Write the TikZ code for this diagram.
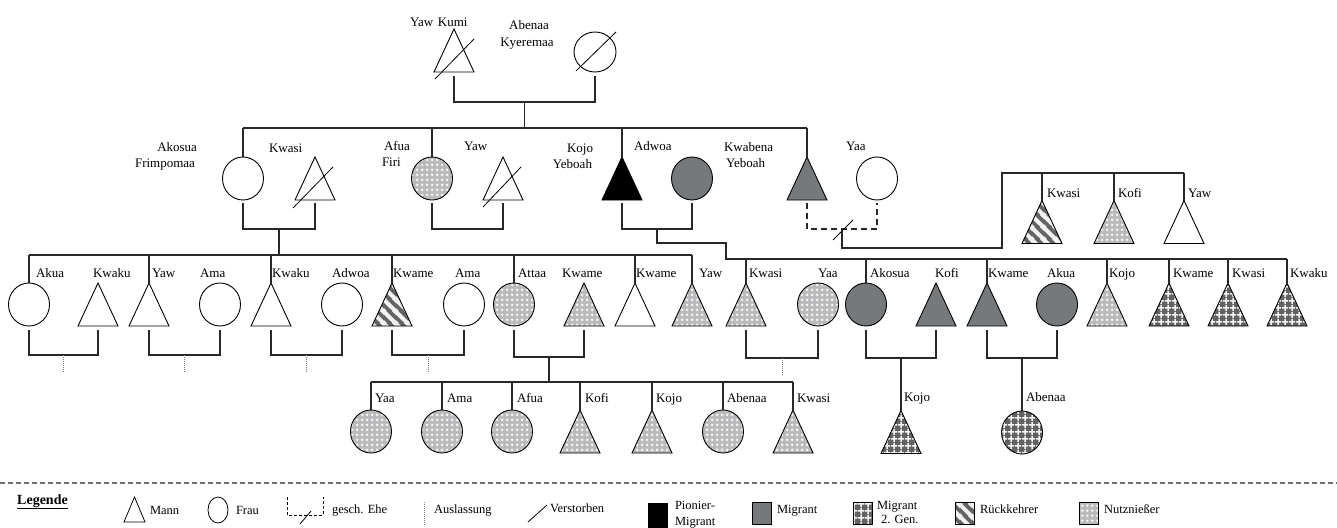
\documentclass[tikz,border=0pt]{standalone}
\usepackage{fontspec}
\setmainfont{Liberation Serif}
\usetikzlibrary{shapes.geometric,patterns,calc}
\makeatletter
\pgfdeclareshape{mantri}{
  \inheritsavedanchors[from=rectangle]
  \inheritanchorborder[from=rectangle]
  \inheritanchor[from=rectangle]{center}
  \inheritanchor[from=rectangle]{north}
  \inheritanchor[from=rectangle]{south}
  \inheritanchor[from=rectangle]{east}
  \inheritanchor[from=rectangle]{west}
  \inheritanchor[from=rectangle]{north east}
  \inheritanchor[from=rectangle]{north west}
  \inheritanchor[from=rectangle]{south east}
  \inheritanchor[from=rectangle]{south west}
  \backgroundpath{
    \southwest \edef\mtxa{\the\pgf@x}\edef\mtya{\the\pgf@y}
    \northeast \edef\mtxb{\the\pgf@x}\edef\mtyb{\the\pgf@y}
    \pgfpathmoveto{\pgfqpoint{\mtxa}{\mtya}}
    \pgfpathlineto{\pgfqpoint{\mtxb}{\mtya}}
    \pgfpathlineto{\pgfpointlineattime{0.5}{\pgfqpoint{\mtxa}{\mtyb}}{\pgfqpoint{\mtxb}{\mtyb}}}
    \pgfpathclose
  }
}
\makeatother
\pgfdeclarepatternformonly{nutzpat}{\pgfqpoint{0pt}{0pt}}{\pgfqpoint{5pt}{5pt}}{\pgfqpoint{5pt}{5pt}}{
  \pgfsetlinewidth{0.9pt}
  \pgfpathmoveto{\pgfqpoint{0.9pt}{2.5pt}}\pgfpathlineto{\pgfqpoint{4.1pt}{2.5pt}}
  \pgfpathmoveto{\pgfqpoint{2.5pt}{0.9pt}}\pgfpathlineto{\pgfqpoint{2.5pt}{4.1pt}}
  \pgfusepath{stroke}
}
\pgfdeclarepatternformonly{migiipat}{\pgfqpoint{0pt}{0pt}}{\pgfqpoint{6.5pt}{6.5pt}}{\pgfqpoint{6.5pt}{6.5pt}}{
  \pgfsetlinewidth{1.7pt}
  \pgfpathmoveto{\pgfqpoint{0pt}{3.25pt}}\pgfpathlineto{\pgfqpoint{6.5pt}{3.25pt}}
  \pgfpathmoveto{\pgfqpoint{3.25pt}{0pt}}\pgfpathlineto{\pgfqpoint{3.25pt}{6.5pt}}
  \pgfusepath{stroke}
}
\pgfdeclarepatternformonly{rueckpat}{\pgfqpoint{0pt}{0pt}}{\pgfqpoint{12pt}{12pt}}{\pgfqpoint{12pt}{12pt}}{
  \pgfsetlinewidth{4.2pt}
  \pgfpathmoveto{\pgfqpoint{-1pt}{13pt}}\pgfpathlineto{\pgfqpoint{13pt}{-1pt}}
  \pgfpathmoveto{\pgfqpoint{-4pt}{4pt}}\pgfpathlineto{\pgfqpoint{4pt}{-4pt}}
  \pgfpathmoveto{\pgfqpoint{8pt}{16pt}}\pgfpathlineto{\pgfqpoint{16pt}{8pt}}
  \pgfusepath{stroke}
}
\definecolor{linec}{RGB}{40,40,40}
\definecolor{miggray}{RGB}{118,121,123}
\definecolor{nutzbase}{RGB}{186,186,188}
\definecolor{migiibase}{RGB}{98,98,98}
\definecolor{rueckbase}{RGB}{100,100,100}
\definecolor{sepgray}{RGB}{110,110,110}
\newcommand\fsmain{\fontsize{13}{15}\selectfont}
\newcommand\fsleg{\fontsize{12.5}{14}\selectfont}
\tikzset{
  conn/.style={draw=linec, line width=1.1pt},
  ausl/.style={draw=gray, line width=0.9pt, dash pattern=on 1pt off 1pt},
  dec/.style={draw=black, line width=0.8pt},
  man/.style={shape=mantri, draw=black, line width=0.9pt, minimum width=40pt, minimum height=43pt, inner sep=0pt, outer sep=0pt},
  woman/.style={shape=ellipse, draw=black, line width=0.9pt, minimum width=41pt, minimum height=43pt, inner sep=0pt, outer sep=0pt},
  nutz/.style={preaction={fill=nutzbase}, pattern=nutzpat, pattern color=white},
  mig/.style={fill=miggray},
  pion/.style={fill=black},
  migii/.style={preaction={fill=migiibase}, pattern=migiipat, pattern color=white!92!gray},
  rueck/.style={preaction={fill=rueckbase}, pattern=rueckpat, pattern color=white!90!gray},
  lbl/.style={font=\fsmain, inner sep=0pt, outer sep=0pt, anchor=base west},
  lblr/.style={font=\fsmain, inner sep=0pt, outer sep=0pt, anchor=base east},
  lblc/.style={font=\fsmain, inner sep=0pt, outer sep=0pt, anchor=base},
  leg/.style={font=\fsleg, inner sep=0pt, outer sep=0pt, anchor=base west},
  legbox/.style={draw=black, line width=0.8pt, minimum width=19pt, minimum height=22pt, inner sep=0pt, outer sep=0pt},
}
\begin{document}
\begin{tikzpicture}[x=1pt,y=-1pt]
\useasboundingbox (0,0) rectangle (1337,527);

% ---------- Generation 1
\node[man] (YK) at (454,50.5) {};
\node[woman, minimum width=42pt, minimum height=40pt] (AK) at (595,52) {};
\node[lbl] (tYK) at (410,27) {Yaw\hspace{1.5pt} Kumi};
\node[lblc] (tAK1) at (529,30) {Abenaa};
\node[lblc] (tAK2) at (527,47) {Kyeremaa};
\draw[dec] ([shift={(1pt,-7pt)}]YK.south west) -- ([shift={(0pt,-10pt)}]YK.north east);
\draw[dec] ([shift={(-19pt,-19pt)}]AK.center) -- ([shift={(21pt,20pt)}]AK.center);
\draw[conn] ([yshift=-4pt]YK.south) |- coordinate[pos=.75](m0) ([yshift=-30pt]AK.south) -- ([yshift=-4pt]AK.south);

% ---------- Generation 2
\node[woman] (AF) at (243,178.5) {};
\node[man] (KW) at (315,178.5) {};
\node[woman,nutz] (AFI) at (432,178.5) {};
\node[man] (YW) at (503,178.5) {};
\node[man,pion] (KY) at (622,178.5) {};
\node[woman,mig] (AD) at (692,178.5) {};
\node[man,mig] (KB) at (807,178.5) {};
\node[woman] (YA) at (877,178.5) {};

\node[lblr] (tAF1) at (197,151) {Akosua};
\node[lblr] (tAF2) at (195,167) {Frimpomaa};
\node[lbl] (tKW) at (269,152) {Kwasi};
\node[lbl] (tAFI1) at (384,150) {Afua};
\node[lbl] (tAFI2) at (382,166) {Firi};
\node[lbl] (tYW) at (464,150) {Yaw};
\node[lblr] (tKY1) at (593,152) {Kojo};
\node[lblr] (tKY2) at (592,168) {Yeboah};
\node[lbl] (tAD) at (634,150) {Adwoa};
\node[lbl] (tKB1) at (724,151) {Kwabena};
\node[lbl] (tKB2) at (726,167) {Yeboah};
\node[lbl] (tYA) at (846,150) {Yaa};

\draw[dec] ([shift={(-2pt,-8pt)}]KW.south west) -- ([shift={(-2pt,-10pt)}]KW.north east);
\draw[dec] ([shift={(0pt,-7pt)}]YW.south west) -- ([shift={(-2pt,-10pt)}]YW.north east);

\draw[conn] (m0) -- (m0 |- 0,128);
\draw[conn] (AF.north |- 0,128) -- (KB.north |- 0,128);
\foreach \n in {AF,AFI,KY,KB} \draw[conn] (\n.north |- 0,128) -- (\n.north);

\draw[conn] ([yshift=-3pt]AF.south) |- coordinate[pos=.75](mAK) ([yshift=-29pt]KW.south) -- ([yshift=-3pt]KW.south);
\draw[conn] ([yshift=-3pt]AFI.south) |- ([yshift=-29pt]YW.south) -- ([yshift=-3pt]YW.south);
\draw[conn] ([yshift=-3pt]KY.south) |- coordinate[pos=.75](mKA) ([yshift=-29pt]AD.south) -- ([yshift=-3pt]AD.south);
\draw[conn, dash pattern=on 6pt off 4pt] ([yshift=-3pt]KB.south) |- coordinate[pos=.75](mKB) ([yshift=-29pt]YA.south) -- ([yshift=-3pt]YA.south);
\draw[dec] ([shift={(-9pt,-11pt)}]mKB) -- ([shift={(11pt,9pt)}]mKB);

% ---------- upper right group (Kwabena Yeboah)
\node[man,rueck] (RKw) at (1042,222) {};
\node[man,nutz] (RKo) at (1114,222) {};
\node[man] (RYa) at (1184,222) {};
\node[lbl] (tRKw) at (1047,197) {Kwasi};
\node[lbl] (tRKo) at (1118,197) {Kofi};
\node[lbl] (tRYa) at (1188,197) {Yaw};
\coordinate (kbA) at (1002,248);
\draw[conn] (mKB) |- (kbA) -- (kbA |- 0,173) -- (RYa.north |- 0,173);
\foreach \n in {RKw,RKo,RYa} \draw[conn] (\n.north |- 0,173) -- (\n.north);

% ---------- Generation 3
\node[woman] (AkuaC) at (29,304.5) {};
\node[man] (KwakuA) at (98,304.5) {};
\node[man] (YawC) at (149,304.5) {};
\node[woman] (AmaA) at (220,304.5) {};
\node[man] (KwakuB) at (271,304.5) {};
\node[woman] (AdwoaC) at (342,304.5) {};
\node[man,rueck] (KwameA) at (392,304.5) {};
\node[woman] (AmaB) at (464,304.5) {};
\node[woman,nutz] (AttaaC) at (514,304.5) {};
\node[man,nutz] (KwameB) at (584,304.5) {};
\node[man] (KwameC) at (635,304.5) {};
\node[man,nutz] (YawD) at (692,304.5) {};
\node[man,nutz] (KwasiC) at (746,304.5) {};
\node[woman,nutz] (YaaC) at (818,304.5) {};
\node[woman,mig] (AkosuaC) at (866,304.5) {};
\node[man,mig] (KofiC) at (936,304.5) {};
\node[man,mig] (KwameD) at (987,304.5) {};
\node[woman,mig] (AkuaD) at (1057,304.5) {};
\node[man,nutz] (KojoC) at (1107,304.5) {};
\node[man,migii] (KwameE) at (1169,304.5) {};
\node[man,migii] (KwasiD) at (1228,304.5) {};
\node[man,migii] (KwakuC) at (1287,304.5) {};

\node[lbl] (tAkuaC) at (36,277) {Akua};
\node[lbl] (tKwakuA) at (93,277) {Kwaku};
\node[lbl] (tYawC) at (152,277) {Yaw};
\node[lbl] (tAmaA) at (200,277) {Ama};
\node[lbl] (tKwakuB) at (272,277) {Kwaku};
\node[lbl] (tAdwoaC) at (332,277) {Adwoa};
\node[lbl] (tKwameA) at (393,277) {Kwame};
\node[lbl] (tAmaB) at (455,277) {Ama};
\node[lbl] (tAttaaC) at (518,277) {Attaa};
\node[lbl] (tKwameB) at (562,277) {Kwame};
\node[lbl] (tKwameC) at (636,277) {Kwame};
\node[lbl] (tYawD) at (699,277) {Yaw};
\node[lbl] (tKwasiC) at (749,277) {Kwasi};
\node[lbl] (tYaaC) at (818,277) {Yaa};
\node[lbl] (tAkosuaC) at (870,277) {Akosua};
\node[lbl] (tKofiC) at (935,277) {Kofi};
\node[lbl] (tKwameD) at (988,277) {Kwame};
\node[lbl] (tAkuaD) at (1047,277) {Akua};
\node[lbl] (tKojoC) at (1109,277) {Kojo};
\node[lbl] (tKwameE) at (1173,277) {Kwame};
\node[lbl] (tKwasiD) at (1232,277) {Kwasi};
\node[lbl] (tKwakuC) at (1290,277) {Kwaku};

% sibling line (Akosua Frimpomaa + Kwasi)
\draw[conn] (mAK) -- (mAK |- 0,255);
\draw[conn] (AkuaC.north |- 0,255) -- (YawD.north |- 0,255);
\foreach \n in {AkuaC,YawC,KwakuB,KwameA,AttaaC,KwameC,YawD} \draw[conn] (\n.north |- 0,255) -- (\n.north);

% sibling line (Kojo Yeboah + Adwoa)
\coordinate (kjA) at (726,243);
\draw[conn] (mKA) |- (kjA) -- (kjA |- 0,259) -- (KwakuC.north |- 0,259);
\foreach \n in {KwasiC,AkosuaC,KwameD,KojoC,KwameE,KwasiD,KwakuC} \draw[conn] (\n.north |- 0,259) -- (\n.north);

% marriages gen 3
\draw[conn] ([yshift=-4pt]AkuaC.south) |- coordinate[pos=.75](g1) ([yshift=-29pt]KwakuA.south) -- ([yshift=-4pt]KwakuA.south);
\draw[conn] ([yshift=-4pt]YawC.south) |- coordinate[pos=.75](g2) ([yshift=-29pt]AmaA.south) -- ([yshift=-4pt]AmaA.south);
\draw[conn] ([yshift=-4pt]KwakuB.south) |- coordinate[pos=.75](g3) ([yshift=-29pt]AdwoaC.south) -- ([yshift=-4pt]AdwoaC.south);
\draw[conn] ([yshift=-4pt]KwameA.south) |- coordinate[pos=.75](g4) ([yshift=-29pt]AmaB.south) -- ([yshift=-4pt]AmaB.south);
\draw[conn] ([yshift=-4pt]AttaaC.south) |- coordinate[pos=.75](g5) ([yshift=-31pt]KwameB.south) -- ([yshift=-4pt]KwameB.south);
\draw[conn] ([yshift=-4pt]KwasiC.south) |- coordinate[pos=.75](g6) ([yshift=-32pt]YaaC.south) -- ([yshift=-4pt]YaaC.south);
\draw[conn] ([yshift=-4pt]AkosuaC.south) |- coordinate[pos=.75](g7) ([yshift=-32pt]KofiC.south) -- ([yshift=-4pt]KofiC.south);
\draw[conn] ([yshift=-4pt]KwameD.south) |- coordinate[pos=.75](g8) ([yshift=-32pt]AkuaD.south) -- ([yshift=-4pt]AkuaD.south);
\foreach \m in {g1,g2,g3,g4,g6} \draw[ausl] (\m) -- ++(0,18);

% ---------- Generation 4
\node[woman,nutz] (YaaE) at (371,431.5) {};
\node[woman,nutz] (AmaE) at (442,431.5) {};
\node[woman,nutz] (AfuaE) at (512,431.5) {};
\node[man,nutz] (KofiE) at (580,431.5) {};
\node[man,nutz] (KojoE) at (652,431.5) {};
\node[woman,nutz] (AbenaaE) at (723,431.5) {};
\node[man,nutz] (KwasiE) at (793,431.5) {};
\node[man,migii] (KojoF) at (901,432) {};
\node[woman,migii] (AbenaaF) at (1022,432.5) {};

\node[lbl] (tYaaE) at (375,402) {Yaa};
\node[lbl] (tAmaE) at (447,402) {Ama};
\node[lbl] (tAfuaE) at (517,402) {Afua};
\node[lbl] (tKofiE) at (585,402) {Kofi};
\node[lbl] (tKojoE) at (656,402) {Kojo};
\node[lbl] (tAbenaaE) at (727,402) {Abenaa};
\node[lbl] (tKwasiE) at (797,402) {Kwasi};
\node[lbl] (tKojoF) at (904,401) {Kojo};
\node[lbl] (tAbenaaF) at (1026,401) {Abenaa};

\draw[conn] (g5) -- (g5 |- 0,382);
\draw[conn] (YaaE.north |- 0,382) -- (KwasiE.north |- 0,382);
\foreach \n in {YaaE,AmaE,AfuaE,KofiE,KojoE,AbenaaE,KwasiE} \draw[conn] (\n.north |- 0,382) -- (\n.north);
\draw[conn] (g7) -- (KojoF.north);
\draw[conn] (g8) -- (AbenaaF.north);

% ---------- separator
\coordinate (sepL) at (0,483);
\coordinate (sepR) at (1337,483);
\draw[draw=sepgray, line width=1.1pt, dash pattern=on 5pt off 3pt] (sepL) -- (sepR);

% ---------- legend
\node[font=\fontsize{14}{16}\selectfont\bfseries, inner sep=0pt, anchor=base west] (tLeg) at (17,504) {\underline{Legende}};
\node[man, minimum width=21pt, minimum height=25pt, line width=0.8pt] (lgM) at (134.5,509.5) {};
\node[leg] (tlgM) at (150,514) {Mann};
\node[woman, minimum width=20pt, minimum height=26pt, line width=0.8pt] (lgF) at (218,510) {};
\node[leg] (tlgF) at (236,514) {Frau};
\coordinate (geA) at (287,497);
\coordinate (geB) at (323,497);
\draw[line width=0.8pt, dash pattern=on 3pt off 2pt] (geA) -- (geA |- 0,515) -- (geB |- 0,515) -- (geB);
\draw[dec] ([shift={(13pt,-27pt)}]geA) -- ([shift={(24pt,-14pt)}]geA);
\node[leg] (tlgE) at (332,513) {gesch. Ehe};
\coordinate (auA) at (424,502);
\draw[ausl] (auA) -- ++(0,23);
\node[leg] (tlgA) at (434,513) {Auslassung};
\coordinate (vsA) at (528,522);
\draw[dec] (vsA) -- ++(19,-17);
\node[leg] (tlgV) at (550,512) {Verstorben};
\node[legbox, pion, minimum height=24pt] (lgP) at (658,515) {};
\node[leg] (tlgP1) at (675,509) {Pionier-};
\node[leg] (tlgP2) at (675,525) {Migrant};
\node[legbox, mig] (lgMi) at (762,513.5) {};
\node[leg] (tlgMi) at (777,513) {Migrant};
\node[legbox, migii] (lgM2) at (862.5,513) {};
\node[leg] (tlgM21) at (877,509) {Migrant};
\node[leg] (tlgM22) at (881,523) {2. Gen.};
\node[legbox, rueck] (lgR) at (964.5,513.5) {};
\node[leg] (tlgR) at (980,513) {Rückkehrer};
\node[legbox, nutz] (lgN) at (1088.5,513.5) {};
\node[leg] (tlgN) at (1104,513) {Nutznießer};
\end{tikzpicture}
\end{document}
